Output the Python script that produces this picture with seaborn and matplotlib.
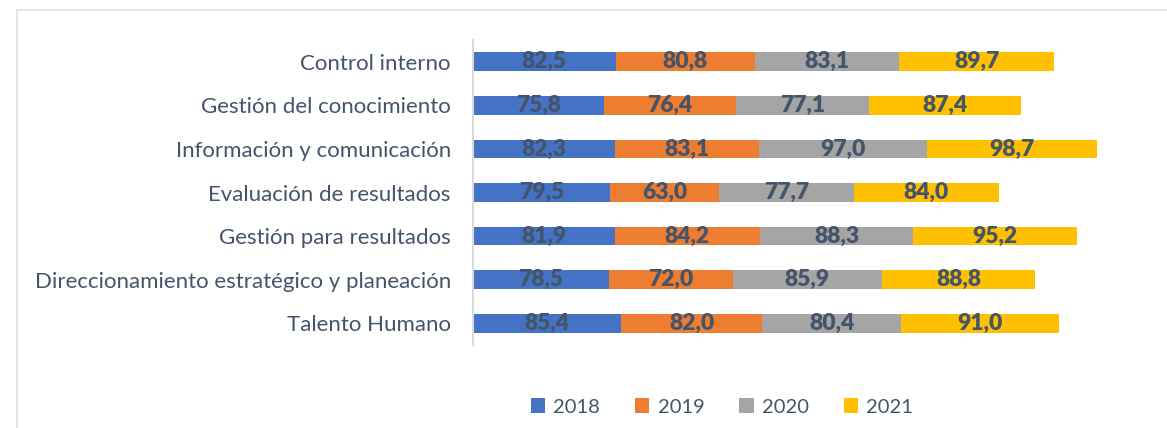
import numpy as np
import pandas as pd
import seaborn as sns
import matplotlib
matplotlib.use('Agg')
from matplotlib import pyplot as plt
from matplotlib.patches import Rectangle, Patch

categories = ['Control interno', 'Gestión del conocimiento', 'Información y comunicación',
              'Evaluación de resultados', 'Gestión para resultados',
              'Direccionamiento estratégico y planeación', 'Talento Humano']
years = ['2018', '2019', '2020', '2021']
v2018 = [82.5, 75.8, 82.3, 79.5, 81.9, 78.5, 85.4]
v2019 = [80.8, 76.4, 83.1, 63.0, 84.2, 72.0, 82.0]
v2020 = [83.1, 77.1, 97.0, 77.7, 88.3, 85.9, 80.4]
v2021 = [89.7, 87.4, 98.7, 84.0, 95.2, 88.8, 91.0]
colors = ['#4472C4', '#ED7D31', '#A5A5A5', '#FFC000']
text_color = '#44546A'

df = pd.DataFrame({'cat': categories, '2018': v2018, '2019': v2019, '2020': v2020, '2021': v2021})
cum = df[years].cumsum(axis=1)

sns.set_theme(style='white')
plt.rcParams['font.family'] = ['Lato', 'DejaVu Sans']

fig = plt.figure(figsize=(11.67, 4.28), dpi=100)
ax = fig.add_axes([473 / 1167, 1 - 345 / 428, 677 / 1167, 305 / 428])

# stacked look: draw cumulative totals from largest to smallest
for yr, col in reversed(list(zip(years, colors))):
    sns.barplot(x=cum[yr], y=df['cat'], orient='h', color=col, width=0.43,
                saturation=1, ax=ax, edgecolor='none')

# value labels centred in each segment
for i in range(len(categories)):
    left = 0
    for yr in years:
        val = df.loc[i, yr]
        ax.text(left + val / 2, i, f'{val:.1f}'.replace('.', ','), ha='center', va='center',
                fontsize=16.5, fontweight='heavy', color=text_color)
        left += val

ax.set_xlim(0, 391.6)
ax.set_ylim(6.5, -0.5)
ax.set_xlabel('')
ax.set_ylabel('')
ax.set_xticks([])
for s in ['top', 'right', 'bottom']:
    ax.spines[s].set_visible(False)
ax.spines['left'].set_color('#D9D9D9')
ax.spines['left'].set_linewidth(1.5)
ax.tick_params(axis='y', length=0, pad=16, labelsize=16, labelcolor=text_color)

handles = [Patch(facecolor=c, edgecolor='none') for c in colors]
fig.legend(handles, years, loc='center', bbox_to_anchor=(722 / 1167, 1 - 407 / 428), ncol=4,
           frameon=False, fontsize=14.5, labelcolor=text_color, handlelength=0.7, handleheight=0.7,
           handletextpad=0.4, columnspacing=1.75)

# chart area frame
fig.patches.append(Rectangle((17 / 1167, -0.1), 1.2, 1 - 10 / 428 + 0.1, transform=fig.transFigure,
                             fill=False, edgecolor='#DCE1EA', linewidth=1.2))

plt.savefig('out.png', dpi=100)
plt.close(fig)
